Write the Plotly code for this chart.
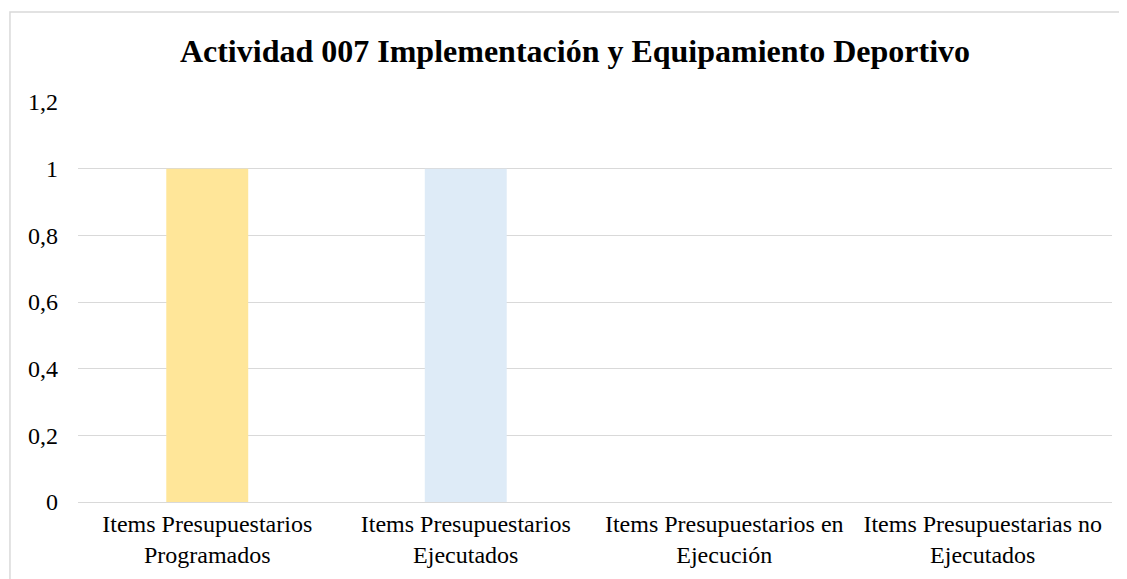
import plotly.graph_objects as go

categories = ["Items Presupuestarios<br>Programados", "Items Presupuestarios<br>Ejecutados",
              "Items Presupuestarios en<br>Ejecución", "Items Presupuestarias no<br>Ejecutados"]
values = [1, 1, 0, 0]
colors = ["#FFE699", "#DEEBF7", "#F8CBAD", "#C9C9C9"]
tick_vals = [0, 0.2, 0.4, 0.6, 0.8, 1, 1.2]
tick_text = ["0", "0,2", "0,4", "0,6", "0,8", "1", "1,2"]

fig = go.Figure(go.Bar(x=categories, y=values, marker_color=colors, marker_line_width=0))

serif = "Liberation Serif"
fig.update_layout(
    width=1119, height=571,
    margin=dict(l=70, r=15, t=94, b=77),
    paper_bgcolor="white", plot_bgcolor="white",
    bargap=0.683,
    showlegend=False,
    title=dict(text="<b>Actividad 007 Implementación y Equipamiento Deportivo</b>",
               x=0.5067, xanchor="center", y=0.925, yanchor="middle",
               font=dict(family=serif, size=32, color="#000000")),
    font=dict(family=serif, size=24, color="#000000"),
)
fig.update_yaxes(range=[0, 1.2], tickvals=tick_vals, ticktext=tick_text,
                 showgrid=True, gridcolor="#D9D9D9", gridwidth=1.3,
                 zeroline=False, showline=False, ticks="", ticklabelstandoff=19,
                 tickfont=dict(family=serif, size=24, color="#000000"))
fig.update_xaxes(showline=True, linecolor="#D9D9D9", linewidth=1.3, ticks="",
                 tickfont=dict(family=serif, size=24, color="#000000"), tickangle=0)
fig.add_shape(type="rect", xref="paper", yref="paper",
              x0=-0.0658, x1=1.1, y0=-0.5, y1=1.225,
              line=dict(color="#D9D9D9", width=1.5), fillcolor="rgba(0,0,0,0)", layer="below")
fig.write_html("out.html")
